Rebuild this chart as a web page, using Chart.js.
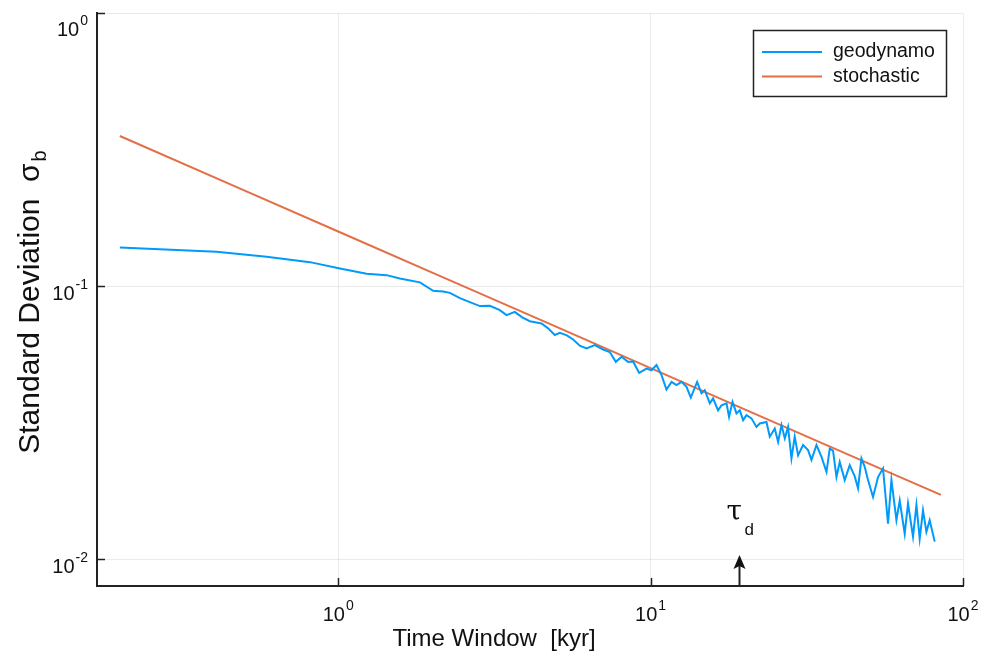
<!DOCTYPE html>
<html>
<head>
<meta charset="utf-8">
<script src="https://cdn.jsdelivr.net/npm/chart.js@4.4.1/dist/chart.umd.min.js"></script>
<style>
  html, body { margin: 0; padding: 0; background: #fff; }
  #wrap { width: 993px; height: 658px; }
</style>
</head>
<body>
<div id="wrap"><canvas id="sigmaChart" width="993" height="658"></canvas></div>
<script>
// time window (kyr) and standard deviation of the geodynamo run
const timeWindow = [
  0.2, 0.408, 0.590, 0.812, 1.013, 1.233, 1.429, 1.575, 1.826, 2.014,
  2.168, 2.278, 2.452, 2.639, 2.841, 3.058, 3.291, 3.458, 3.676, 3.871,
  4.106, 4.476, 4.688, 4.936, 5.122, 5.393, 5.649, 5.934, 6.235, 6.627,
  7.047, 7.403, 7.738, 8.071, 8.472, 8.790, 9.189, 9.703, 10.07, 10.44,
  10.84, 11.24, 11.67, 12.10, 12.56, 13.03, 13.45, 14.09, 14.55, 14.91,
  15.47, 15.85, 16.44, 16.86, 17.50, 17.83, 18.29, 18.83, 19.30, 19.77,
  20.27, 21.03, 21.82, 22.36, 23.49, 24.07, 24.97, 25.59, 26.24, 26.89,
  27.54, 28.24, 28.93, 29.65, 30.76, 31.92, 32.73, 33.96, 35.24, 36.56,
  37.45, 38.37, 39.35, 40.31, 41.82, 43.39, 45.02, 46.13, 47.31, 48.46,
  49.66, 51.52, 53.46, 55.46, 57.54, 59.00, 61.22, 62.72, 65.07, 66.68,
  69.18, 70.94, 72.67, 74.47, 76.36, 78.23, 81.18
];
const geodynamoSigma = [
  0.1386, 0.1336, 0.1280, 0.1224, 0.1161, 0.1109, 0.1097, 0.1067, 0.1032, 0.0961,
  0.0956, 0.0945, 0.0904, 0.0874, 0.0845, 0.0847, 0.0817, 0.0783, 0.0805, 0.0770,
  0.0744, 0.0730, 0.0702, 0.0662, 0.0674, 0.0660, 0.0638, 0.0605, 0.0591, 0.0608,
  0.0586, 0.0574, 0.0528, 0.0551, 0.0528, 0.0530, 0.0481, 0.0499, 0.0492, 0.0514,
  0.0472, 0.0418, 0.0446, 0.0434, 0.0446, 0.0428, 0.0391, 0.0446, 0.0405, 0.0416,
  0.0372, 0.0388, 0.0351, 0.0366, 0.0372, 0.0332, 0.0377, 0.0342, 0.0351, 0.0323,
  0.0337, 0.0328, 0.0305, 0.0314, 0.0318, 0.0281, 0.0301, 0.0269, 0.0310, 0.0277,
  0.0305, 0.0234, 0.0281, 0.0240, 0.0262, 0.0251, 0.0231, 0.0262, 0.0237, 0.0209,
  0.0254, 0.0250, 0.0200, 0.0227, 0.0195, 0.0221, 0.0201, 0.0182, 0.0234, 0.0218,
  0.0195, 0.0169, 0.0200, 0.0215, 0.0135, 0.0195, 0.0139, 0.0164, 0.0124, 0.0160,
  0.0121, 0.0158, 0.0119, 0.0151, 0.0126, 0.0139, 0.0116
];

// stochastic model, straight in log-log
const stochasticTime = [0.2, 0.5, 1, 2, 5, 10, 20, 50, 85];
const stochasticSigma = [0.3544, 0.2242, 0.1585, 0.1121, 0.0709, 0.0501, 0.0354, 0.0224, 0.0172];

const xTicks = [1, 10, 100];
const yTicks = [0.01, 0.1, 1];
const tauD = 19.2;

const seriesNames = ['geodynamo', 'stochastic'];
const seriesColors = ['#009AFA', '#E36F47'];

const SANS = '"Liberation Sans", Arial, Helvetica, sans-serif';

function toPoints(xs, ys) {
  return xs.map((x, i) => ({ x: x, y: ys[i] }));
}

// 10 with a raised exponent, anchored left at (x0, baseline)
function drawPow(ctx, exp, x0, baseline) {
  ctx.font = '20px ' + SANS;
  ctx.fillText('10', x0, baseline);
  const w = ctx.measureText('10').width;
  ctx.font = '14px ' + SANS;
  ctx.fillText(String(exp), x0 + w + 1, baseline - 11);
}
function powWidth(ctx, exp) {
  ctx.font = '20px ' + SANS;
  const w = ctx.measureText('10').width;
  ctx.font = '14px ' + SANS;
  return w + 1 + ctx.measureText(String(exp)).width;
}

const decorations = {
  id: 'decorations',
  afterDraw(chart) {
    const { ctx, chartArea: a, scales } = chart;
    const xs = scales.x, ys = scales.y;
    ctx.save();
    ctx.fillStyle = '#111';
    ctx.strokeStyle = '#222';
    ctx.textAlign = 'left';
    ctx.textBaseline = 'alphabetic';

    // inward tick marks
    ctx.lineWidth = 1.5;
    ctx.beginPath();
    xTicks.forEach(v => {
      const px = Math.round(xs.getPixelForValue(v)) + 0.5;
      ctx.moveTo(px, a.bottom); ctx.lineTo(px, a.bottom - 8);
    });
    yTicks.forEach(v => {
      const py = Math.round(ys.getPixelForValue(v)) + 0.5;
      ctx.moveTo(a.left, py); ctx.lineTo(a.left + 8, py);
    });
    ctx.stroke();

    // tick labels
    xTicks.forEach(v => {
      const e = Math.round(Math.log10(v));
      const px = xs.getPixelForValue(v);
      const w = powWidth(ctx, e);
      drawPow(ctx, e, px - w / 2, 621);
    });
    yTicks.forEach(v => {
      const e = Math.round(Math.log10(v));
      const py = ys.getPixelForValue(v);
      const w = powWidth(ctx, e);
      drawPow(ctx, e, 88 - w, Math.max(py + 14, 36));
    });

    // axis titles
    ctx.font = '24px ' + SANS;
    ctx.textAlign = 'center';
    ctx.fillText('Time Window  [kyr]', 494, 646);

    ctx.save();
    ctx.translate(39, 302);
    ctx.rotate(-Math.PI / 2);
    ctx.font = '30px ' + SANS;
    const main = 'Standard Deviation  \u03C3';
    const wMain = ctx.measureText(main).width;
    ctx.font = '20px ' + SANS;
    const wSub = ctx.measureText('b').width;
    const start = -(wMain + wSub + 2) / 2;
    ctx.textAlign = 'left';
    ctx.font = '30px ' + SANS;
    ctx.fillText(main, start, 0);
    ctx.font = '20px ' + SANS;
    ctx.fillText('b', start + wMain + 2, 7);
    ctx.restore();

    // tau_d marker on the time axis
    const tx = Math.round(xs.getPixelForValue(tauD)) + 0.5;
    ctx.lineWidth = 2;
    ctx.beginPath();
    ctx.moveTo(tx, a.bottom); ctx.lineTo(tx, 566);
    ctx.stroke();
    ctx.beginPath();
    ctx.moveTo(tx, 555); ctx.lineTo(tx - 6, 569); ctx.lineTo(tx, 566); ctx.lineTo(tx + 6, 569);
    ctx.closePath();
    ctx.fill();
    ctx.textAlign = 'left';
    ctx.font = '28px "DejaVu Serif", "Liberation Serif", serif';
    ctx.fillText('\u03C4', tx - 13, 520);
    ctx.font = '17px ' + SANS;
    ctx.fillText('d', tx + 5, 535);

    // legend box
    ctx.fillStyle = '#fff';
    ctx.fillRect(753, 30, 194, 67);
    ctx.lineWidth = 1.5;
    ctx.strokeStyle = '#222';
    ctx.strokeRect(753.5, 30.5, 193, 66);
    ctx.font = '19.5px ' + SANS;
    ctx.textBaseline = 'middle';
    chart.data.datasets.forEach((ds, i) => {
      const ly = 52 + i * 24.5;
      ctx.strokeStyle = ds.borderColor;
      ctx.lineWidth = 2;
      ctx.beginPath();
      ctx.moveTo(762, ly); ctx.lineTo(822, ly);
      ctx.stroke();
      ctx.fillStyle = '#111';
      ctx.fillText(ds.label, 833, ly);
    });
    ctx.restore();
  }
};

new Chart(document.getElementById('sigmaChart'), {
  type: 'line',
  data: {
    datasets: [
      {
        label: seriesNames[0],
        data: toPoints(timeWindow, geodynamoSigma),
        borderColor: seriesColors[0],
        borderWidth: 2,
        pointRadius: 0,
        tension: 0
      },
      {
        label: seriesNames[1],
        data: toPoints(stochasticTime, stochasticSigma),
        borderColor: seriesColors[1],
        borderWidth: 2,
        pointRadius: 0,
        tension: 0
      }
    ]
  },
  options: {
    responsive: false,
    animation: false,
    devicePixelRatio: 1,
    layout: { padding: { top: 13, right: 30, left: 0, bottom: 0 } },
    plugins: {
      legend: { display: false },
      tooltip: { enabled: false }
    },
    scales: {
      x: {
        type: 'logarithmic',
        min: 0.169,
        max: 100,
        afterBuildTicks: s => { s.ticks = xTicks.map(v => ({ value: v })); },
        afterFit: s => { s.height = 72; },
        ticks: { display: false },
        grid: { color: 'rgba(0,0,0,0.08)', drawTicks: false },
        border: { color: '#222', width: 2 }
      },
      y: {
        type: 'logarithmic',
        min: 0.00798,
        max: 1,
        afterBuildTicks: s => { s.ticks = yTicks.map(v => ({ value: v })); },
        afterFit: s => { s.width = 97; },
        ticks: { display: false },
        grid: { color: 'rgba(0,0,0,0.08)', drawTicks: false },
        border: { color: '#222', width: 2 }
      }
    }
  },
  plugins: [decorations]
});
</script>
</body>
</html>
